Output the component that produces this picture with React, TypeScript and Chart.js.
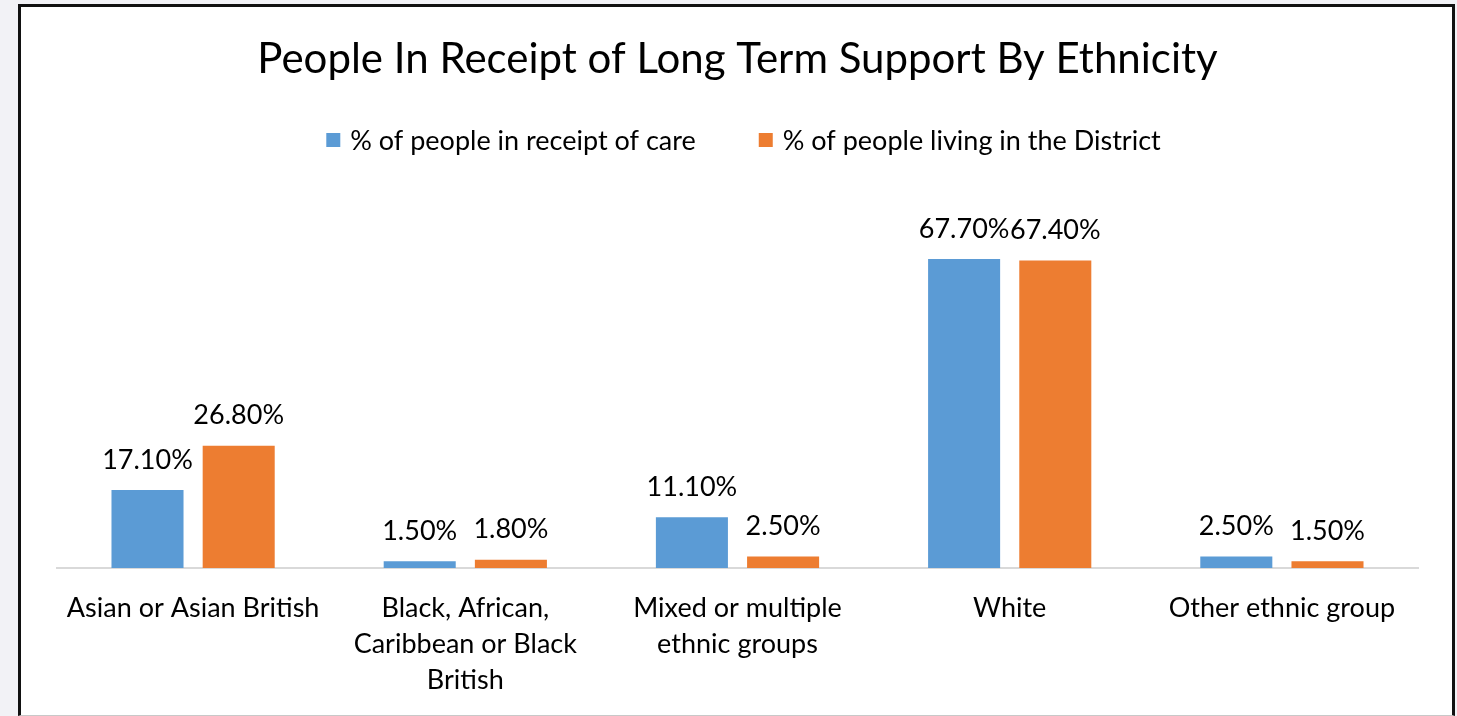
import React, { useEffect, useRef } from "react";
import { Chart, registerables } from "chart.js";

Chart.register(...registerables);

const FONT = "Lato, 'Noto Sans', sans-serif";

const categories: (string | string[])[] = [
  "Asian or Asian British",
  ["Black, African,", "Caribbean or Black", "British"],
  ["Mixed or multiple", "ethnic groups"],
  "White",
  "Other ethnic group",
];
const careValues = [17.1, 1.5, 11.1, 67.7, 2.5];
const districtValues = [26.8, 1.8, 2.5, 67.4, 1.5];
const seriesNames = ["% of people in receipt of care", "% of people living in the District"];
const seriesColors = ["#5B9BD5", "#ED7D31"];
const titleText = "People In Receipt of Long Term Support By Ethnicity";

const dataLabelPlugin = {
  id: "dataLabels",
  afterDatasetsDraw(chart: any) {
    const ctx = chart.ctx;
    ctx.save();
    ctx.font = `27px ${FONT}`;
    ctx.fillStyle = "#000";
    ctx.textAlign = "center";
    ctx.textBaseline = "middle";
    chart.data.datasets.forEach((ds: any, di: number) => {
      const meta = chart.getDatasetMeta(di);
      meta.data.forEach((bar: any, i: number) => {
        const v = ds.data[i] as number;
        ctx.fillText(v.toFixed(2) + "%", bar.x, bar.y - 30);
      });
    });
    ctx.restore();
  },
};

const legendPlugin = {
  id: "customLegend",
  afterDraw(chart: any) {
    const ctx = chart.ctx;
    ctx.save();
    ctx.font = `27px ${FONT}`;
    ctx.textBaseline = "middle";
    ctx.textAlign = "left";
    const box = 14;
    const gapText = 10;
    const gapItem = 63;
    const widths = seriesNames.map((n) => box + gapText + ctx.measureText(n).width);
    const total = widths.reduce((a, b) => a + b, 0) + gapItem * (widths.length - 1);
    let x = (chart.chartArea.left + chart.chartArea.right) / 2 - total / 2 + 6;
    const cy = 133;
    seriesNames.forEach((n, i) => {
      ctx.fillStyle = seriesColors[i];
      ctx.fillRect(x, cy - box / 2, box, box);
      ctx.fillStyle = "#000";
      ctx.fillText(n, x + box + gapText, cy + 1);
      x += widths[i] + gapItem;
    });
    ctx.restore();
  },
};

export default function App() {
  const canvasRef = useRef<HTMLCanvasElement | null>(null);

  useEffect(() => {
    if (!canvasRef.current) return;
    const chart = new Chart(canvasRef.current, {
      type: "bar",
      data: {
        labels: categories as any,
        datasets: [
          {
            label: seriesNames[0],
            data: careValues,
            backgroundColor: seriesColors[0],
            categoryPercentage: 0.67,
            barPercentage: 0.79,
          },
          {
            label: seriesNames[1],
            data: districtValues,
            backgroundColor: seriesColors[1],
            categoryPercentage: 0.67,
            barPercentage: 0.79,
          },
        ],
      },
      options: {
        responsive: false,
        animation: false,
        layout: { padding: { left: 36, right: 34, top: 0, bottom: 0 } },
        plugins: {
          legend: { display: false },
          tooltip: { enabled: false },
          title: {
            display: true,
            text: titleText,
            color: "#000",
            font: { family: FONT, size: 42, weight: "normal", lineHeight: 1 },
            padding: { top: 31, bottom: 123 },
          },
        },
        scales: {
          x: {
            grid: { display: false, drawTicks: false },
            border: { display: true, color: "#d9d9d9", width: 2 },
            ticks: {
              color: "#000",
              font: { family: FONT, size: 27, lineHeight: "36px" as any },
              padding: 22,
              maxRotation: 0,
              autoSkip: false,
            },
            afterFit: (scale: any) => {
              scale.height = 147;
            },
          },
          y: {
            display: false,
            min: 0,
            max: 80,
            grid: { display: false },
          },
        },
      },
      plugins: [dataLabelPlugin, legendPlugin],
    });
    return () => chart.destroy();
  }, []);

  return (
    <div
      style={{
        position: "fixed",
        left: 0,
        top: 0,
        width: 1457,
        height: 716,
        background: "#f2f2f6",
        overflow: "hidden",
      }}
    >
      <div
        style={{
          position: "absolute",
          left: 18,
          top: 4,
          width: 1437,
          height: 712,
          boxSizing: "border-box",
          borderLeft: "3px solid #111",
          borderRight: "3px solid #111",
          borderTop: "3px solid #111",
          borderBottom: "1px solid #c8c8c8",
          background: "#fff",
        }}
      >
        <canvas
          ref={canvasRef}
          width={1431}
          height={708}
          style={{ display: "block", width: 1431, height: 708 }}
        />
      </div>
    </div>
  );
}
